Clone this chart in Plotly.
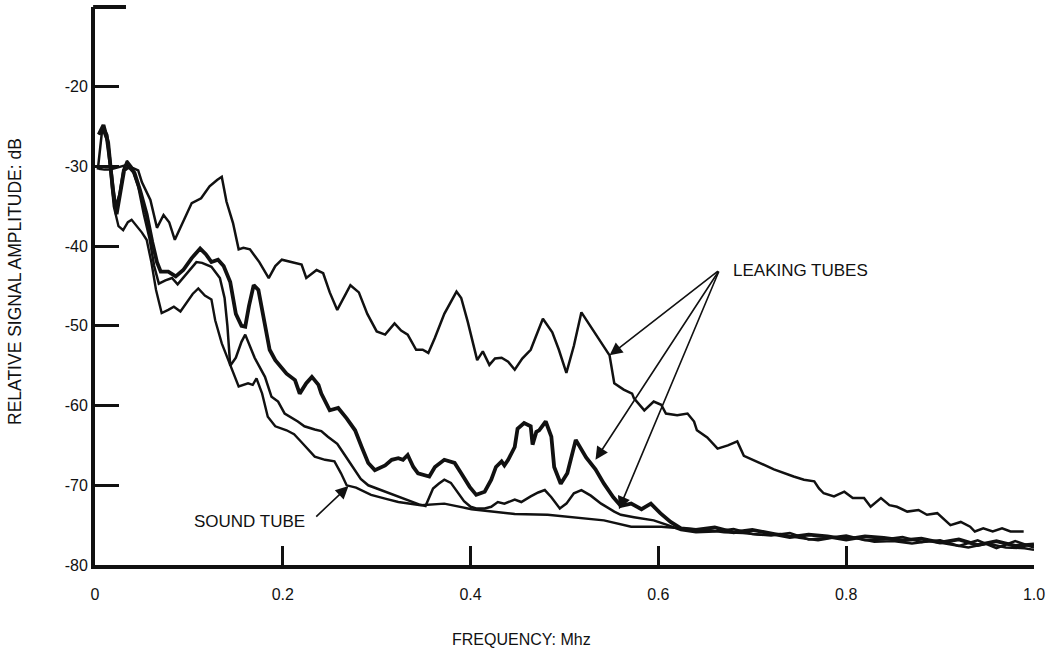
import plotly.graph_objects as go

# ---------------- data ----------------
# Leaking tube 1 (upper curve)
freq_a = [0.003, 0.008, 0.013, 0.018, 0.022, 0.026, 0.030, 0.034, 0.040, 0.046, 0.050, 0.059, 0.066, 0.073,
          0.079, 0.085, 0.094, 0.103, 0.113, 0.122, 0.130, 0.135, 0.140, 0.147, 0.153, 0.158, 0.165, 0.175,
          0.185, 0.192, 0.199, 0.207, 0.215, 0.220, 0.225, 0.236, 0.243, 0.250, 0.258, 0.266, 0.272, 0.281,
          0.290, 0.300, 0.309, 0.319, 0.326, 0.333, 0.342, 0.349, 0.355, 0.362, 0.372, 0.385, 0.390, 0.397,
          0.402, 0.407, 0.413, 0.420, 0.426, 0.433, 0.440, 0.447, 0.455, 0.464, 0.469, 0.477, 0.487, 0.494,
          0.502, 0.510, 0.518, 0.526, 0.535, 0.548, 0.553, 0.563, 0.572, 0.574, 0.585, 0.595, 0.603, 0.608,
          0.620, 0.631, 0.638, 0.641, 0.652, 0.663, 0.674, 0.684, 0.691, 0.709, 0.723, 0.744, 0.755, 0.766,
          0.771, 0.776, 0.787, 0.798, 0.807, 0.819, 0.826, 0.837, 0.846, 0.854, 0.865, 0.877, 0.886, 0.897,
          0.911, 0.922, 0.932, 0.937, 0.946, 0.956, 0.966, 0.975, 0.989]
amp_a = [-30.4, -25.0, -26.0, -31.0, -35.0, -33.5, -30.5, -29.3, -30.2, -30.5, -32.0, -34.2, -37.7, -36.1,
         -37.0, -39.2, -37.0, -34.6, -34.0, -32.5, -31.7, -31.3, -34.4, -37.1, -40.4, -40.2, -40.4, -42.0,
         -44.0, -42.5, -41.7, -41.9, -42.1, -42.3, -44.0, -43.0, -43.4, -45.8, -48.0, -46.3, -44.9, -45.8,
         -48.5, -50.7, -51.1, -49.7, -50.6, -51.1, -53.0, -53.0, -53.4, -51.5, -48.5, -45.7, -46.5, -49.5,
         -52.0, -54.3, -53.2, -54.9, -54.1, -54.0, -54.5, -55.5, -54.1, -53.0, -51.5, -49.1, -50.8, -53.0,
         -55.9, -52.5, -48.3, -49.7, -51.3, -53.7, -57.2, -58.0, -58.5, -59.1, -60.6, -59.5, -59.9, -61.0,
         -61.2, -61.0, -62.0, -63.1, -64.0, -65.4, -65.0, -64.5, -66.3, -67.2, -68.0, -68.9, -69.3, -69.5,
         -70.4, -71.0, -71.4, -70.8, -71.6, -71.6, -72.7, -71.6, -72.5, -72.7, -73.3, -73.1, -73.7, -73.5,
         -75.0, -74.6, -75.2, -75.8, -75.4, -75.8, -75.4, -75.8, -75.8]

# Leaking tube 2 (thick curve)
freq_b = [0.004, 0.009, 0.014, 0.019, 0.023, 0.027, 0.031, 0.036, 0.042, 0.048, 0.055, 0.061, 0.066, 0.070,
          0.078, 0.086, 0.094, 0.103, 0.112, 0.118, 0.124, 0.131, 0.137, 0.144, 0.150, 0.156, 0.160, 0.164,
          0.169, 0.174, 0.179, 0.186, 0.192, 0.204, 0.213, 0.218, 0.225, 0.231, 0.238, 0.241, 0.250, 0.259,
          0.268, 0.277, 0.284, 0.291, 0.298, 0.309, 0.316, 0.323, 0.328, 0.333, 0.339, 0.344, 0.356, 0.362,
          0.372, 0.383, 0.390, 0.399, 0.406, 0.415, 0.422, 0.427, 0.433, 0.436, 0.440, 0.447, 0.450, 0.457,
          0.464, 0.466, 0.470, 0.473, 0.480, 0.486, 0.489, 0.496, 0.503, 0.508, 0.512, 0.523, 0.533, 0.542,
          0.552, 0.560, 0.571, 0.582, 0.592, 0.602, 0.613, 0.624, 0.640, 0.660, 0.680, 0.700, 0.720, 0.740,
          0.760, 0.780, 0.800, 0.820, 0.840, 0.860, 0.880, 0.900, 0.920, 0.940, 0.960, 0.980, 1.000]
amp_b = [-26.0, -24.8, -27.0, -33.0, -36.0, -33.0, -30.5, -30.0, -30.8, -33.0, -36.0, -39.5, -42.0, -43.2,
         -43.2, -43.8, -43.0, -41.5, -40.3, -41.0, -42.0, -41.7, -42.5, -44.5, -48.5, -50.0, -50.1, -47.5,
         -44.9, -45.5, -48.5, -53.0, -54.3, -56.0, -56.8, -58.5, -57.2, -56.4, -57.4, -58.5, -60.6, -60.3,
         -61.6, -63.1, -65.2, -67.2, -68.1, -67.5, -66.8, -66.6, -66.8, -66.2, -67.7, -68.5, -68.9, -67.7,
         -66.8, -67.2, -68.5, -70.2, -71.2, -70.8, -69.3, -67.7, -67.0, -67.5, -66.8, -65.2, -62.9, -62.2,
         -62.6, -64.9, -63.3, -63.1, -62.0, -63.9, -67.7, -69.8, -68.5, -66.0, -64.3, -66.5, -68.0, -69.8,
         -71.5, -72.6, -72.3, -73.0, -72.3, -73.5, -74.6, -75.4, -75.6, -75.3, -75.9, -75.6, -76.0, -76.5,
         -76.2, -76.4, -76.8, -76.4, -76.6, -76.9, -76.7, -77.2, -76.8, -77.5, -77.0, -77.6, -77.4]

# Leaking tube 3 (lower leaking curve)
freq_c = [0.004, 0.010, 0.016, 0.022, 0.028, 0.034, 0.040, 0.046, 0.052, 0.058, 0.063, 0.068, 0.075, 0.082,
          0.088, 0.095, 0.102, 0.108, 0.114, 0.124, 0.133, 0.138, 0.141, 0.144, 0.150, 0.156, 0.160, 0.165,
          0.170, 0.181, 0.188, 0.195, 0.202, 0.216, 0.223, 0.234, 0.241, 0.248, 0.258, 0.266, 0.275, 0.283,
          0.291, 0.300, 0.312, 0.323, 0.333, 0.345, 0.352, 0.356, 0.360, 0.366, 0.372, 0.379, 0.386, 0.393,
          0.400, 0.406, 0.415, 0.422, 0.429, 0.436, 0.447, 0.454, 0.464, 0.472, 0.479, 0.486, 0.495, 0.502,
          0.510, 0.518, 0.528, 0.539, 0.553, 0.560, 0.574, 0.595, 0.610, 0.624, 0.640, 0.660, 0.680, 0.700,
          0.720, 0.740, 0.760, 0.780, 0.800, 0.820, 0.840, 0.860, 0.880, 0.900, 0.920, 0.940, 0.960, 0.980,
          1.000]
amp_c = [-30.3, -30.4, -30.4, -30.2, -30.0, -29.8, -30.5, -32.5, -36.0, -39.0, -42.5, -44.7, -44.3, -44.0,
         -44.8, -43.8, -42.8, -42.0, -42.1, -42.6, -44.0, -46.5, -50.0, -55.0, -54.0, -52.0, -51.1, -52.5,
         -54.0, -56.4, -58.9, -59.5, -61.0, -62.0, -62.6, -63.0, -63.2, -63.9, -64.8, -66.2, -67.8, -69.2,
         -70.0, -70.4, -70.9, -71.4, -71.9, -72.4, -72.6, -71.5, -70.4, -69.8, -69.3, -69.7, -70.8, -72.0,
         -72.7, -72.9, -72.9, -72.7, -72.1, -72.3, -71.8, -72.1, -71.4, -70.9, -70.6, -71.5, -72.9, -72.3,
         -71.0, -70.6, -71.3, -72.3, -73.3, -73.7, -74.0, -74.4, -75.0, -75.6, -75.9, -75.8, -75.5, -76.1,
         -76.3, -76.0, -76.8, -76.6, -76.3, -76.9, -76.8, -76.5, -77.1, -76.9, -77.6, -76.9, -77.9, -77.0,
         -77.8]

# Sound tube
freq_d = [0.004, 0.008, 0.012, 0.016, 0.020, 0.025, 0.030, 0.035, 0.039, 0.045, 0.050, 0.055, 0.060, 0.065,
          0.071, 0.078, 0.084, 0.091, 0.098, 0.104, 0.110, 0.117, 0.124, 0.128, 0.135, 0.146, 0.153, 0.163,
          0.168, 0.172, 0.178, 0.184, 0.192, 0.204, 0.212, 0.220, 0.234, 0.245, 0.255, 0.262, 0.268, 0.278,
          0.294, 0.310, 0.323, 0.347, 0.372, 0.401, 0.447, 0.482, 0.510, 0.542, 0.571, 0.603, 0.624, 0.650,
          0.670, 0.690, 0.710, 0.730, 0.750, 0.770, 0.790, 0.810, 0.830, 0.850, 0.870, 0.890, 0.910, 0.930,
          0.950, 0.970, 0.990, 1.000]
amp_d = [-26.0, -25.3, -26.5, -30.0, -35.0, -37.5, -38.0, -37.0, -36.7, -37.5, -38.3, -39.2, -42.0, -45.5,
         -48.4, -48.0, -47.6, -48.2, -47.0, -46.0, -45.3, -46.2, -46.7, -49.3, -52.2, -55.5, -57.6, -57.2,
         -57.4, -56.6, -58.5, -61.4, -62.6, -63.1, -63.6, -64.6, -66.4, -66.8, -67.0, -68.5, -70.0, -70.3,
         -71.2, -71.7, -72.1, -72.5, -72.3, -73.0, -73.6, -73.7, -74.0, -74.4, -75.2, -75.2, -75.4, -75.6,
         -75.9, -76.0, -76.2, -76.1, -76.6, -76.9, -76.5, -76.6, -77.1, -77.0, -77.3, -77.0, -77.4, -77.8,
         -77.3, -77.8, -77.9, -78.1]

x_tick_vals = [0, 0.2, 0.4, 0.6, 0.8, 1.0]
x_tick_text = ["0", "0.2", "0.4", "0.6", "0.8", "1.0"]
y_tick_vals = [-80, -70, -60, -50, -40, -30, -20]
y_tick_text = ["-80", "-70", "-60", "-50", "-40", "-30", "-20"]

x_title = "FREQUENCY: Mhz"
y_title = "RELATIVE SIGNAL AMPLITUDE: dB"
leak_label = "LEAKING TUBES"
sound_label = "SOUND TUBE"

# annotation anchor points (data coords)
leak_tail = (0.665, -43.0)
leak_heads = [(0.548, -53.7), (0.533, -66.8), (0.558, -73.0)]
sound_tail = (0.234, -74.1)
sound_head = (0.270, -70.1)

# ---------------- figure ----------------
FONT = "Liberation Sans, Arial, Helvetica, sans-serif"
INK = "#111111"

fig = go.Figure()
for fx, fy, w in [(freq_a, amp_a, 2.5), (freq_c, amp_c, 2.5), (freq_d, amp_d, 2.4), (freq_b, amp_b, 3.8)]:
    fig.add_trace(go.Scatter(x=fx, y=fy, mode="lines",
                             line=dict(color=INK, width=w, shape="linear"),
                             showlegend=False, hoverinfo="skip"))

fig.update_layout(
    width=1057, height=653,
    margin=dict(l=95, r=23, t=7, b=88),
    paper_bgcolor="white", plot_bgcolor="white",
    font=dict(family=FONT, size=16, color=INK),
    showlegend=False,
)

fig.update_xaxes(
    range=[0, 1.0], showgrid=False, zeroline=False,
    showline=True, linecolor=INK, linewidth=4,
    tickmode="array", tickvals=x_tick_vals, ticktext=x_tick_text,
    ticks="inside", ticklen=19, tickwidth=2.5, tickcolor=INK,
    tickfont=dict(family=FONT, size=16, color=INK),
    ticklabelstandoff=12,
)
fig.update_yaxes(
    range=[-80, -10], showgrid=False, zeroline=False,
    showline=True, linecolor=INK, linewidth=4,
    tickmode="array", tickvals=y_tick_vals, ticktext=y_tick_text,
    ticks="inside", ticklen=24, tickwidth=2.5, tickcolor=INK,
    tickfont=dict(family=FONT, size=16, color=INK),
    ticklabelstandoff=0,
)

# top cap of the y axis
fig.add_shape(type="line", xref="paper", yref="paper", x0=-0.002, x1=0.033, y0=1.0, y1=1.0,
              line=dict(color=INK, width=4))

# axis titles as annotations (positioned like the original)
fig.add_annotation(text=x_title, xref="paper", yref="paper", x=(521 - 95) / 939, y=-(639 - 565) / 558,
                   showarrow=False, xanchor="center", yanchor="middle",
                   font=dict(family=FONT, size=16, color=INK))
fig.add_annotation(text=y_title, xref="paper", yref="paper", x=-(95 - 15) / 939, y=(565 - 282) / 558,
                   showarrow=False, xanchor="center", yanchor="middle", textangle=-90,
                   font=dict(family=FONT, size=17.5, color=INK))

# leaking tubes label and arrows
fig.add_annotation(text=leak_label, x=leak_tail[0], y=leak_tail[1], xref="x", yref="y",
                   showarrow=False, xanchor="left", yanchor="middle", xshift=12,
                   font=dict(family=FONT, size=17, color=INK))
for hx, hy in leak_heads:
    fig.add_annotation(text="", x=hx, y=hy, ax=leak_tail[0], ay=leak_tail[1],
                       xref="x", yref="y", axref="x", ayref="y",
                       showarrow=True, arrowhead=2, arrowsize=1.6, arrowwidth=1.6, arrowcolor=INK)

# sound tube label and arrow
fig.add_annotation(text=sound_label, x=sound_tail[0], y=sound_tail[1], xref="x", yref="y",
                   showarrow=False, xanchor="right", yanchor="middle", xshift=-8, yshift=-4,
                   font=dict(family=FONT, size=17, color=INK))
fig.add_annotation(text="", x=sound_head[0], y=sound_head[1], ax=sound_tail[0], ay=sound_tail[1],
                   xref="x", yref="y", axref="x", ayref="y",
                   showarrow=True, arrowhead=2, arrowsize=1.6, arrowwidth=1.6, arrowcolor=INK)

fig.write_html("out.html")
